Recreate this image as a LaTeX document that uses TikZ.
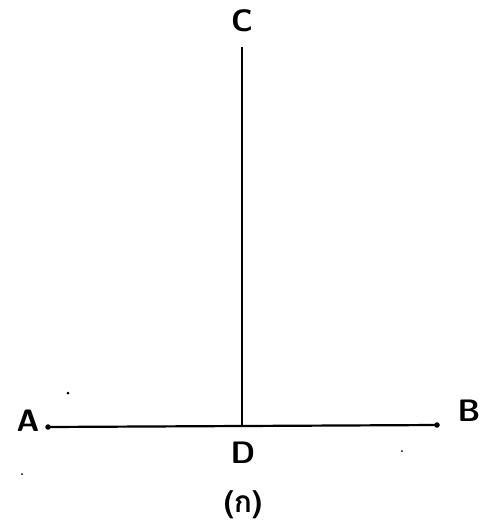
\documentclass[tikz,border=0pt]{standalone}
\usepackage{fontspec}
\newfontfamily\thaifont[Script=Thai]{Loma}
\begin{document}
\begin{tikzpicture}[x=1pt,y=-1pt,
  lbl/.style={font=\fontsize{31}{36}\selectfont\bfseries\sffamily, inner sep=0pt},
  seg/.style={line width=2.2pt},
  blob/.style={fill=black, circle, inner sep=0pt, minimum size=5.5pt}]
\useasboundingbox (0,0) rectangle (484,528);
\coordinate (a) at (48,427);
\coordinate (b) at (437,425);
\coordinate (c) at (242,47);
\coordinate (d) at (242,426);
\draw[seg] (a) -- (b);
\draw[seg] (c) -- (d);
\node[blob] at (a) {};
\node[blob] at (b) {};
\node[lbl] (A) at (28,421) {A};
\node[lbl] (B) at (469,411) {B};
\node[lbl] (C) at (242,21) {C};
\node[lbl] (D) at (243,453) {D};
\node[font=\thaifont\bfseries\fontsize{30}{34}\selectfont, inner sep=0pt] (cap) at (243,505) {(ก)};
\fill (68,393) circle (1.5);
\fill (22,474) circle (1);
\fill (402,451) circle (1);
\end{tikzpicture}
\end{document}
